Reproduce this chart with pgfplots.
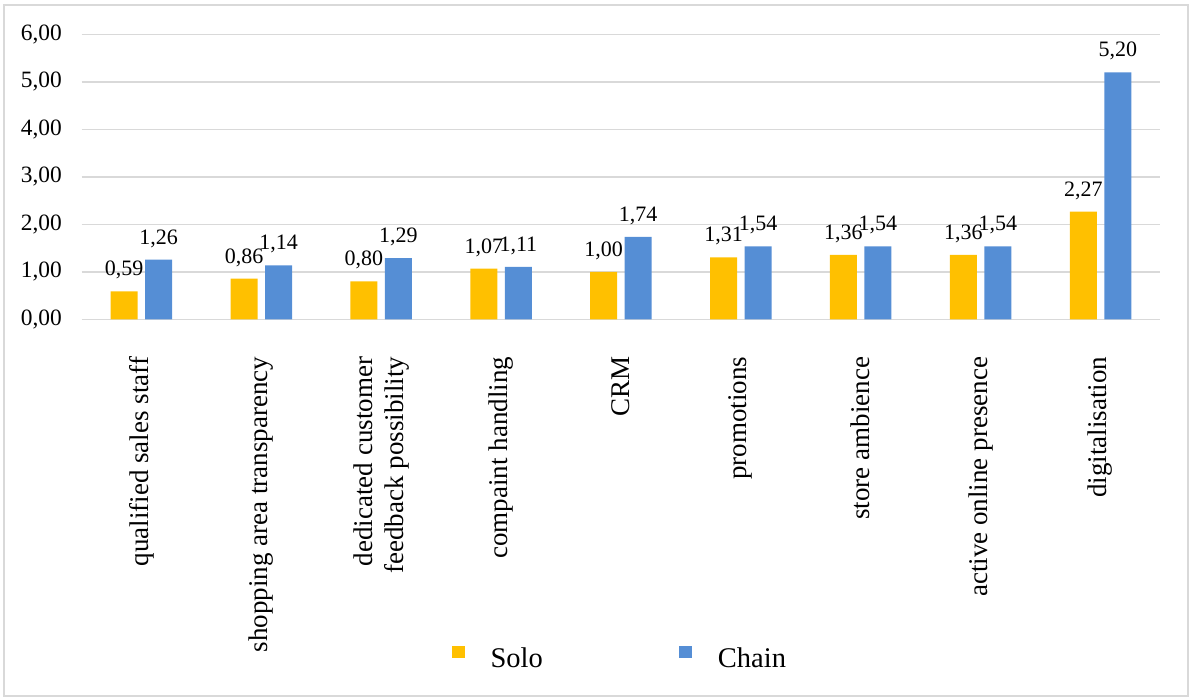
\documentclass[border=0pt]{standalone}
\usepackage{fontspec}
\setmainfont{Liberation Serif}
\usepackage{pgfplots}
\pgfplotsset{compat=1.18}
\definecolor{soloColor}{RGB}{255,192,0}
\definecolor{chainColor}{RGB}{85,142,213}
\definecolor{gridColor}{RGB}{217,217,217}

\pgfplotsset{
    sqleg/.style={legend image code/.code={\fill[##1] (0bp,0bp) rectangle (13bp,12bp);}},
}

\begin{document}
\begin{tikzpicture}[x=1bp,y=1bp]
    \path (0,0) rectangle (1192,698);
    \draw[gridColor, line width=1.8bp] (4,2) rectangle (1188,693);
    \begin{axis}[
        at={(81.5bp,378.5bp)}, anchor=south west,
        scale only axis,
        width=1079bp,
        height=285bp,
        ybar=7.5bp,
        bar width=27bp,
        xmin=-0.5, xmax=8.5,
        ymin=0, ymax=6,
        xtick={0,...,8},
        xticklabels={
            qualified sales staff,
            shopping area transparency,
            {dedicated customer\\feedback possibility},
            compaint handling,
            CRM,
            promotions,
            store ambience,
            active online presence,
            digitalisation},
        ytick={0,1,...,6},
        ymajorgrids=true,
        grid style={gridColor, line width=1.5bp},
        axis line style={draw=none},
        tick style={draw=none},
        xticklabel shift=33bp,
        xticklabel style={font=\fontsize{27bp}{31bp}\selectfont, rotate=90,
            anchor=east, align=right, inner sep=0bp},
        yticklabel style={font=\fontsize{23.4bp}{26bp}\selectfont, anchor=east,
            inner sep=0bp, xshift=-19.5bp,
            /pgf/number format/.cd, fixed, fixed zerofill, precision=2,
            use comma, assume math mode=true},
        nodes near coords={\pgfmathprintnumber[fixed,fixed zerofill,precision=2,use comma,assume math mode=true]{\pgfplotspointmeta}},
        nodes near coords style={font=\fontsize{22bp}{24bp}\selectfont,
            anchor=base, yshift=15.5bp, inner sep=0bp, text=black},
        legend columns=2,
        legend style={at={(0.498,-1.186)}, anchor=center, draw=none, fill=none,
            font=\fontsize{28.5bp}{30bp}\selectfont, inner sep=0bp,
            nodes={inner sep=0bp},
            /tikz/every odd column/.append style={column sep=26bp},
            /tikz/every even column/.append style={column sep=136bp}},
    ]
    \addplot[draw=none, fill=soloColor, sqleg] coordinates {
        (0,0.59) (1,0.86) (2,0.80) (3,1.07) (4,1.00) (5,1.31) (6,1.36) (7,1.36) (8,2.27)};
    \addplot[draw=none, fill=chainColor, sqleg] coordinates {
        (0,1.26) (1,1.14) (2,1.29) (3,1.11) (4,1.74) (5,1.54) (6,1.54) (7,1.54) (8,5.20)};
    \legend{Solo, Chain}
    \end{axis}
\end{tikzpicture}
\end{document}
